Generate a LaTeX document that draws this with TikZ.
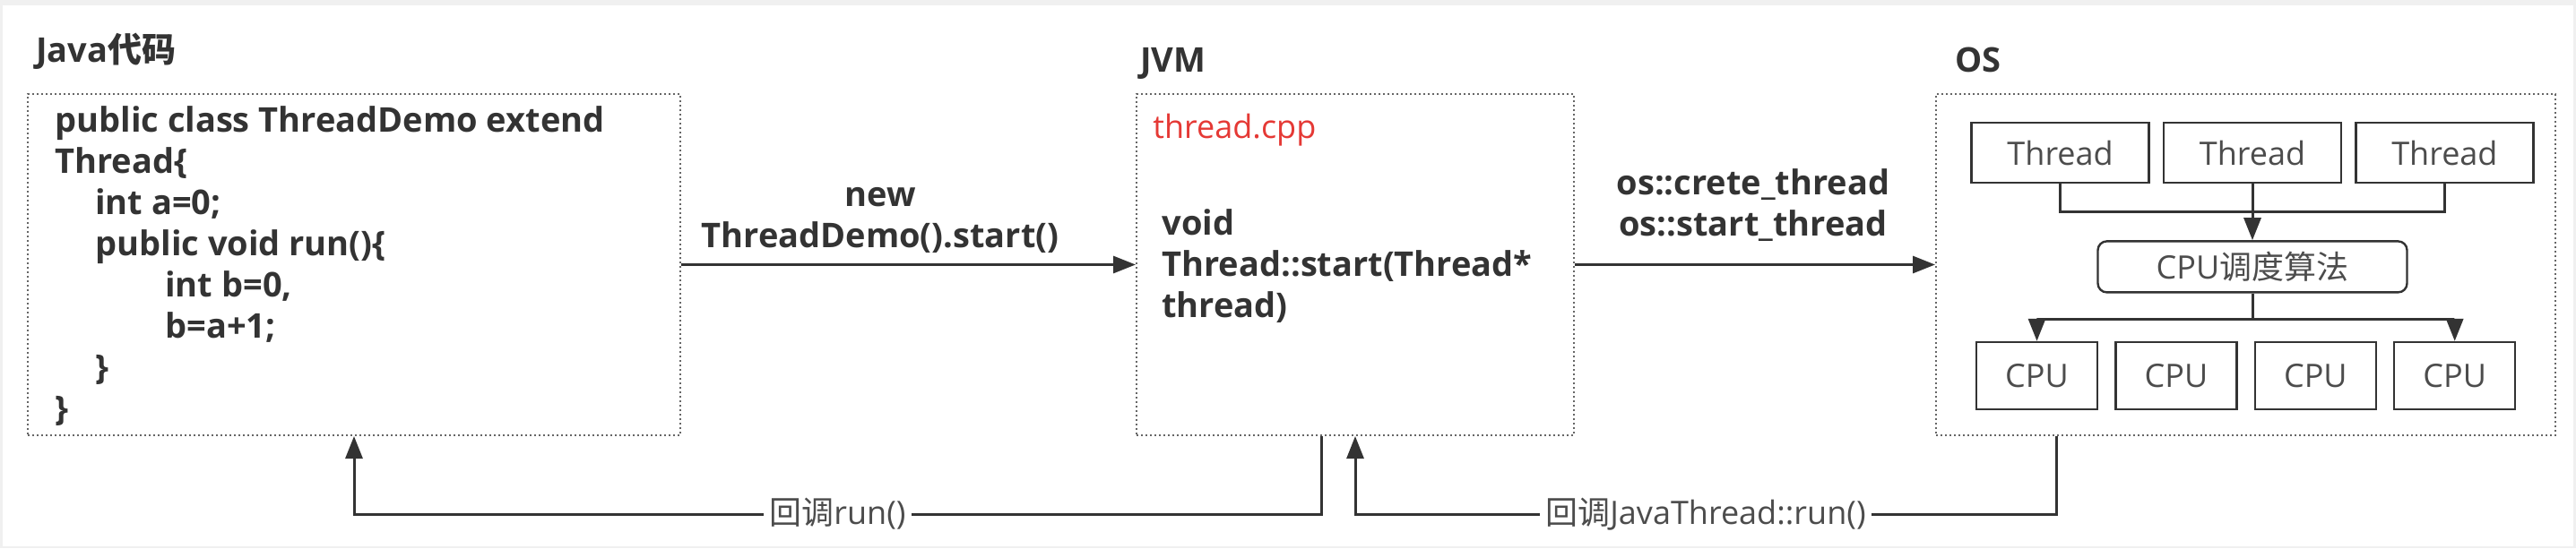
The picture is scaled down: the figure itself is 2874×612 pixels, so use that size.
\documentclass[tikz,border=0pt]{standalone}
\usepackage{fontspec}
\setmainfont{Open Sans}
\newfontfamily\cjk{Noto Sans CJK SC}
\usepackage{tikz}
\usetikzlibrary{positioning,arrows.meta}
\definecolor{ink}{HTML}{333333}
\definecolor{cppred}{HTML}{E53935}
\definecolor{frame}{HTML}{F0F0F0}

\begin{document}
\begin{tikzpicture}
[x=0.5pt,y=-0.5pt,
font=\fontsize{18pt}{23pt}\selectfont,
text=ink,
group/.style={draw=black!60,line width=1pt,dash pattern=on 1pt off 1.5pt,minimum height=190.5pt,inner sep=0pt},
title/.style={font=\fontsize{19pt}{23pt}\selectfont\bfseries,anchor=base west,inner sep=0pt},
code/.style={font=\fontsize{19pt}{23pt}\selectfont\bfseries,align=left,anchor=north west,inner sep=0pt},
call/.style={font=\fontsize{19pt}{23pt}\selectfont\bfseries,align=center,anchor=south,inner sep=0pt},
unit/.style={draw=ink,line width=1.2pt,minimum height=33.5pt,minimum width=99pt,inner sep=0pt,text=black!70},
core/.style={unit,minimum height=37.5pt,minimum width=67.5pt},
wire/.style={draw=ink,line width=1.5pt},
flow/.style={wire,-{Triangle[length=12.5pt,width=9.5pt]}},
back/.style={fill=white,inner sep=3pt,text=black!70}
]
\fill[frame] (0,0) rectangle (2874,612);
\fill[white] (3,6) rectangle (2871,610);
\useasboundingbox (0,0) rectangle (2874,612);

% the three layers
\node[group,minimum width=364pt] (java) at (395,295.5) {};
\node[group,minimum width=244pt] (jvm) at (1512,295.5) {};
\node[group,minimum width=345.5pt] (os) at (2505.5,295.5) {};
\node[title] (javat) at (40,69) {Java{\cjk 代码}};
\node[title] (jvmt) at (1272,80) {JVM};
\node[title] (ost) at (2181,80) {OS};

\node[code] (src) at (61,118) {public class ThreadDemo extend\\Thread\{\\
\hspace*{22.5pt}int a=0;\\
\hspace*{22.5pt}public void run()\{\\
\hspace*{61.5pt}int b=0,\\
\hspace*{61.5pt}b=a+1;\\
\hspace*{22.5pt}\}\\
\}};

\node[anchor=base west,inner sep=0pt,text=cppred] (cpp) at (1286,154) {thread.cpp};
\node[code] (start) at (1296,233) {void\\Thread::start(Thread*\\thread)};

\node[call] (newcall) at (982,283) {new\\ThreadDemo().start()};
\node[call] (oscall) at (1956,270) {os::crete\_thread\\os::start\_thread};

% inside the OS
\node[unit] (th2) at (2513,170.5) {Thread};
\node[unit,left=7pt of th2] (th1) {Thread};
\node[unit,right=7pt of th2] (th3) {Thread};
\node[unit,rounded corners=5pt,minimum width=172.5pt,minimum height=28.5pt,below=31.5pt of th2] (sched) {CPU{\cjk 调度算法}};
\node[core] (cpu1) at (2272.5,419.5) {CPU};
\node[core,right=9pt of cpu1] (cpu2) {CPU};
\node[core,right=9pt of cpu2] (cpu3) {CPU};
\node[core,right=9pt of cpu3] (cpu4) {CPU};

\draw[wire] (th1.south) -- ++(0,31) -| (th3.south);
\draw[flow] (th2.south) -- (sched.north);
\draw[wire] (sched.south) -- ++(0,29) coordinate (fork);
\draw[flow] (fork) -| (cpu1.north);
\draw[flow] (fork) -| (cpu4.north);

% calls and callbacks
\draw[flow] (java.east) -- (jvm.west);
\draw[flow] (jvm.east) -- (os.west);
\draw[flow] ([xshift=-19pt]jvm.south) -- ++(0,87) -| node[back,pos=0.25]{{\cjk 回调}run()} (java.south);
\draw[flow] ([xshift=-105.75pt]os.south) -- ++(0,87) -| node[back,pos=0.25]{{\cjk 回调}JavaThread::run()} (jvm.south);
\end{tikzpicture}
\end{document}
